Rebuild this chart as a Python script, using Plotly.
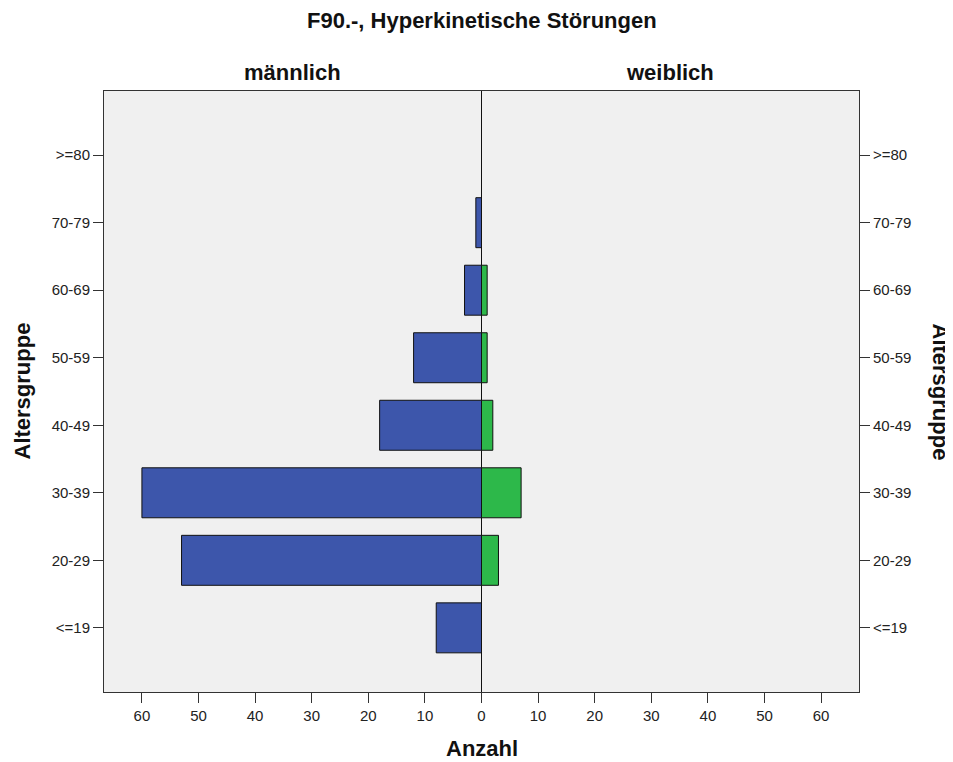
import plotly.graph_objects as go

age_groups = ["<=19", "20-29", "30-39", "40-49", "50-59", "60-69", "70-79", ">=80"]
male = [8, 53, 60, 18, 12, 3, 1, 0]
female = [0, 3, 7, 2, 1, 1, 0, 0]
x_ticks = [-60, -50, -40, -30, -20, -10, 0, 10, 20, 30, 40, 50, 60]
x_tick_text = [str(abs(v)) for v in x_ticks]

title_text = "F90.-, Hyperkinetische Störungen"
left_label = "männlich"
right_label = "weiblich"
y_title = "Altersgruppe"
x_title = "Anzahl"

FONT = "Liberation Sans, Arial, sans-serif"
blue = "#3D56AB"
green = "#2DB84A"
BOLD = dict(family=FONT, size=22, color="#111")

fig = go.Figure()
fig.add_trace(go.Bar(
    y=age_groups, x=[-v for v in male], orientation="h", width=0.74,
    marker=dict(color=blue, line=dict(color="#111", width=1)),
    yaxis="y", showlegend=False, hoverinfo="skip"))
fig.add_trace(go.Bar(
    y=age_groups, x=female, orientation="h", width=0.74,
    marker=dict(color=green, line=dict(color="#111", width=1)),
    yaxis="y2", showlegend=False, hoverinfo="skip"))

yrange = [-0.95, 7.95]
tickfont = dict(family=FONT, size=15, color="#222")

fig.update_layout(
    width=945, height=754,
    paper_bgcolor="white", plot_bgcolor="#F0F0F0",
    margin=dict(l=96, r=94, t=83, b=70),
    barmode="overlay",
    font=dict(family=FONT),
    xaxis=dict(range=[-66.7, 66.7], tickvals=x_ticks, ticktext=x_tick_text,
               ticks="outside", ticklen=10, tickcolor="#333", tickwidth=1,
               showline=True, linecolor="#333", linewidth=1, mirror=True,
               showgrid=False, zeroline=True, zerolinecolor="#111", zerolinewidth=1,
               tickfont=tickfont),
    yaxis=dict(type="category", categoryorder="array", categoryarray=age_groups, range=yrange,
               ticks="outside", ticklen=10, tickcolor="#333", tickwidth=1,
               showline=True, linecolor="#333", linewidth=1,
               showgrid=False, tickfont=tickfont),
    yaxis2=dict(type="category", categoryorder="array", categoryarray=age_groups, range=yrange,
                overlaying="y", side="right",
                ticks="outside", ticklen=10, tickcolor="#333", tickwidth=1,
                showline=True, linecolor="#333", linewidth=1,
                showgrid=False, tickfont=tickfont),
    annotations=[
        dict(text="<b>" + title_text + "</b>", xref="paper", yref="paper", x=0.5, y=1, yshift=71,
             showarrow=False, xanchor="center", yanchor="middle", font=BOLD),
        dict(text="<b>" + left_label + "</b>", xref="paper", yref="paper", x=0.25, y=1, yshift=19,
             showarrow=False, xanchor="center", yanchor="middle", font=BOLD),
        dict(text="<b>" + right_label + "</b>", xref="paper", yref="paper", x=0.75, y=1, yshift=19,
             showarrow=False, xanchor="center", yanchor="middle", font=BOLD),
        dict(text="<b>" + x_title + "</b>", xref="paper", yref="paper", x=0.5, y=0, yshift=-56,
             showarrow=False, xanchor="center", yanchor="middle", font=BOLD),
        dict(text="<b>" + y_title + "</b>", xref="paper", yref="paper", x=0, xshift=-82, y=0.5,
             showarrow=False, xanchor="center", yanchor="middle", textangle=-90, font=BOLD),
        dict(text="<b>" + y_title + "</b>", xref="paper", yref="paper", x=1, xshift=81, y=0.5,
             showarrow=False, xanchor="center", yanchor="middle", textangle=90, font=BOLD),
    ],
)

fig.write_html("out.html")
